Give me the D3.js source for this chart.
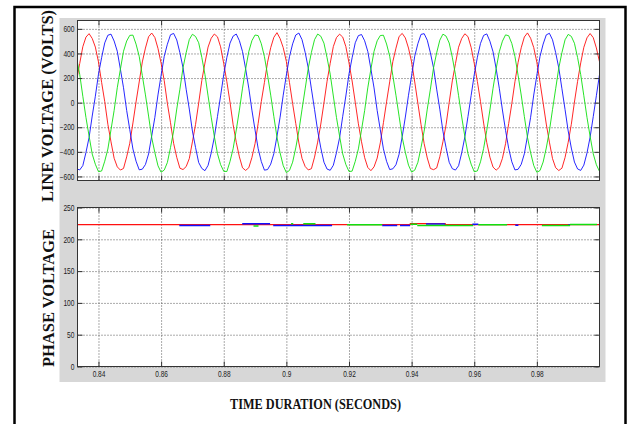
<!DOCTYPE html>
<html>
<head>
<meta charset="utf-8">
<script src="https://cdn.jsdelivr.net/npm/d3@7"></script>
<style>
  html, body { margin: 0; padding: 0; background: #fff; }
  svg { display: block; }
  .tick text {
    font-family: "Liberation Sans Narrow", "Arial Narrow", "Liberation Sans", sans-serif;
    font-size: 8.5px;
    fill: #222;
  }
  .title {
    font-family: "Liberation Serif", "Times New Roman", serif;
    font-weight: bold;
    fill: #111;
  }
</style>
</head>
<body>
<svg id="chart" width="628" height="424"></svg>
<script>
// ---- Line voltages, one sample per millisecond starting at t = 0.833 s ----
const sampleStart = 0.833;
const sampleStep = 0.001;

const lineRed = [
  176,318,455,533,561,522,452,331,165,8,-176,-319,-452,-522,-548,-535,-441,-330,-165,6,
  168,331,444,536,566,530,441,321,178,-6,-163,-331,-445,-533,-544,-520,-455,-319,-177,-4,
  180,322,452,524,558,535,454,318,170,5,-179,-322,-441,-530,-551,-529,-446,-333,-168,9,
  165,329,447,531,569,521,447,335,163,-8,-169,-328,-453,-519,-547,-537,-443,-321,-174,-3,
  174,320,456,529,557,533,456,324,176,3,-172,-318,-447,-527,-553,-522,-451,-327,-163,7,
  169,334,443,538,563,526,444,330,168,-5,-177,-333,-450,-535,-545,-531,-440,-318,-180,2,
  177,317,451,522,560,537,450,319,172,9,-166,-325,-443,-524,-549,-526,-453,-334,-170,-7,
  170,327,446,534,567,524,448,328,166,-2,-174,-321,-455,-529,-552,-533,-446,-323,-176,5,
  173,323,450,527,562,529,445,332
];

const lineBlue = [
  -538,-547,-512,-405,-283,-109,52,231,366,486,548,557,501,418,272,121,-63,-220,-377,-476,
  -546,-541,-503,-417,-271,-120,63,222,377,475,552,563,510,406,284,109,-52,-231,-365,-487,
  -535,-553,-510,-409,-280,-112,55,229,368,484,541,558,504,415,275,118,-61,-223,-374,-479,
  -549,-544,-500,-415,-274,-118,61,224,374,478,550,566,512,409,281,112,-55,-229,-368,-484,
  -540,-550,-509,-407,-285,-111,54,232,365,487,545,554,503,417,273,120,-64,-221,-376,-477,
  -544,-538,-505,-419,-276,-117,60,220,378,480,555,561,508,405,283,110,-53,-232,-366,-485,
  -537,-548,-513,-408,-279,-113,57,227,369,482,547,559,500,414,276,117,-60,-225,-372,-481,
  -547,-542,-502,-416,-272,-119,62,223,376,476,551,564,511,407,282,113,-56,-230,-369,-483,
  -539,-551,-508,-410,-281,-114,56,228
];

const lineGreen = [
  366,231,52,-121,-272,-418,-501,-561,-556,-476,-377,-220,-63,121,272,418,501,547,549,476,
  377,220,63,-109,-284,-406,-513,-566,-548,-487,-365,-231,-52,109,284,406,513,556,538,487,
  368,229,55,-118,-275,-415,-504,-558,-560,-479,-374,-223,-61,118,275,415,504,550,545,479,
  374,224,61,-112,-281,-409,-512,-569,-551,-484,-368,-229,-55,112,281,409,512,558,540,484,
  365,232,54,-120,-273,-417,-503,-560,-557,-477,-376,-221,-64,120,273,417,503,546,548,477,
  378,220,60,-110,-283,-405,-508,-565,-549,-485,-366,-232,-53,110,283,405,508,557,541,485,
  369,227,57,-117,-276,-414,-500,-562,-555,-481,-372,-225,-60,117,276,414,500,551,544,481,
  376,223,62,-113,-282,-407,-511,-567,-552,-483,-369,-230,-56,113,282,407,511,555,539,483,
  367,228,56,-119,-274,-416,-505,-559
];

// ---- Phase voltages: red as steps [time, value]; blue and green as [start, end, value] ----
const phaseRedSteps = [[0.8333, 223.2], [0.9396, 224.6], [0.9507, 223.2], [1.0, 223.2]];
const phaseBlueSegments = [
  [0.8658, 0.8757, 221.6], [0.8859, 0.8948, 224.5], [0.8958, 0.9146, 221.8],
  [0.9306, 0.9354, 221.8], [0.9363, 0.9395, 221.8], [0.9446, 0.9507, 224.1],
  [0.9594, 0.9613, 223.6], [0.9731, 0.9741, 222.0], [0.9900, 0.9906, 222.5]
];
const phaseGreenSegments = [
  [0.8895, 0.8911, 221.0], [0.9015, 0.9022, 224.3], [0.9054, 0.9093, 224.6],
  [0.9194, 0.9306, 222.9], [0.9396, 0.9418, 223.5], [0.9418, 0.9597, 221.6],
  [0.9613, 0.9705, 223.0], [0.9816, 0.9906, 221.8], [0.9906, 0.9992, 223.2]
];

// ---- Axes ----
const timeDomain = [0.8333, 1.0];
const timeTicks = [0.84, 0.86, 0.88, 0.9, 0.92, 0.94, 0.96, 0.98];
const timeTickLabels = ["0.84", "0.86", "0.88", "0.9", "0.92", "0.94", "0.96", "0.98"];
const lineDomain = [-633, 668];
const lineTicks = [-600, -400, -200, 0, 200, 400, 600];
const phaseDomain = [0, 250];
const phaseTicks = [0, 50, 100, 150, 200, 250];

const COLORS = { red: "#ff1010", blue: "#1010ff", green: "#10e010" };

const svg = d3.select("#chart");

// page frame and figure background
svg.append("rect").attr("x", 14.5).attr("y", 7).attr("width", 611).attr("height", 440)
  .attr("fill", "#fff").attr("stroke", "#000").attr("stroke-width", 2.5);
svg.append("rect").attr("x", 59.5).attr("y", 18).attr("width", 546).attr("height", 364)
  .attr("fill", "#d7d7d7");

const left = 77.5, right = 599.5;
const x = d3.scaleLinear().domain(timeDomain).range([left, right]);
const sampleTimes = lineRed.map((_, i) => sampleStart + i * sampleStep);

// narrow, tightly set tick numerals
function condense(sel) {
  sel.selectAll(".tick text").each(function () {
    const s = this.textContent;
    if (!s) return;
    let w = 0;
    for (const ch of s) w += ch === "." ? 1.6 : ch === "-" ? 2.6 : 3.7;
    d3.select(this).attr("textLength", w).attr("lengthAdjust", "spacingAndGlyphs");
  });
}

function panel(id, top, bottom, yScale, yTicks, showTimeLabels) {
  const g = svg.append("g");
  const w = right - left, h = bottom - top;
  g.append("rect").attr("x", left).attr("y", top).attr("width", w).attr("height", h).attr("fill", "#fff");

  // dotted grid
  const gy = g.append("g").attr("transform", `translate(${left},0)`)
    .call(d3.axisLeft(yScale).tickValues(yTicks).tickSize(-w).tickFormat(""));
  const gx = g.append("g").attr("transform", `translate(0,${bottom})`)
    .call(d3.axisBottom(x).tickValues(timeTicks).tickSize(-h).tickFormat(""));
  [gy, gx].forEach(a => {
    a.select(".domain").remove();
    a.selectAll(".tick line").attr("stroke", "#555").attr("stroke-dasharray", "1,2");
  });

  g.append("clipPath").attr("id", id).append("rect")
    .attr("x", left).attr("y", top).attr("width", w).attr("height", h);
  const marks = g.append("g").attr("clip-path", `url(#${id})`);

  // inward ticks on all four sides
  const axL = g.append("g").attr("transform", `translate(${left},0)`)
    .call(d3.axisLeft(yScale).tickValues(yTicks).tickSize(-5).tickPadding(3).tickFormat(d3.format("d")));
  const axR = g.append("g").attr("transform", `translate(${right},0)`)
    .call(d3.axisRight(yScale).tickValues(yTicks).tickSize(-5).tickFormat(""));
  const axT = g.append("g").attr("transform", `translate(0,${top})`)
    .call(d3.axisTop(x).tickValues(timeTicks).tickSize(-5).tickFormat(""));
  const axB = g.append("g").attr("transform", `translate(0,${bottom})`)
    .call(d3.axisBottom(x).tickValues(timeTicks).tickSize(-5).tickPadding(4)
      .tickFormat(showTimeLabels ? (d, i) => timeTickLabels[i] : ""));
  [axL, axR, axT, axB].forEach(a => {
    a.select(".domain").remove();
    a.selectAll(".tick line").attr("stroke", "#333");
    condense(a);
  });

  return { g, marks, top, bottom };
}

// ---- Line voltage panel ----
const yLine = d3.scaleLinear().domain(lineDomain).range([180.5, 20.5]);
const p1 = panel("clipLine", 20.5, 180.5, yLine, lineTicks, false);
const lineGen = d3.line().x((d, i) => x(sampleTimes[i])).y(d => yLine(d));
[[lineRed, COLORS.red], [lineBlue, COLORS.blue], [lineGreen, COLORS.green]].forEach(([data, c]) => {
  p1.marks.append("path").datum(data).attr("d", lineGen)
    .attr("fill", "none").attr("stroke", c).attr("stroke-width", 1).attr("stroke-opacity", 0.9);
});
p1.g.append("rect").attr("x", left).attr("y", 20.5).attr("width", right - left).attr("height", 160)
  .attr("fill", "none").attr("stroke", "#333");

// ---- Phase voltage panel ----
const yPhase = d3.scaleLinear().domain(phaseDomain).range([366.5, 207.5]);
const p2 = panel("clipPhase", 207.5, 366.5, yPhase, phaseTicks, true);
p2.marks.append("path").datum(phaseRedSteps)
  .attr("d", d3.line().curve(d3.curveStepAfter).x(d => x(d[0])).y(d => yPhase(d[1])))
  .attr("fill", "none").attr("stroke", COLORS.red).attr("stroke-width", 1.3);
[[phaseBlueSegments, COLORS.blue], [phaseGreenSegments, COLORS.green]].forEach(([segs, c]) => {
  p2.marks.selectAll(null).data(segs).join("line")
    .attr("x1", d => x(d[0])).attr("x2", d => x(d[1]))
    .attr("y1", d => yPhase(d[2])).attr("y2", d => yPhase(d[2]))
    .attr("stroke", c).attr("stroke-width", 1.5);
});
p2.g.append("rect").attr("x", left).attr("y", 207.5).attr("width", right - left).attr("height", 159)
  .attr("fill", "none").attr("stroke", "#333");

// ---- Titles ----
svg.append("text").attr("class", "title")
  .attr("transform", "translate(52.5,106) rotate(-90)")
  .attr("text-anchor", "middle").attr("font-size", 16)
  .attr("textLength", 192).attr("lengthAdjust", "spacingAndGlyphs")
  .text("LINE VOLTAGE (VOLTS)");
svg.append("text").attr("class", "title")
  .attr("transform", "translate(53.5,298) rotate(-90)")
  .attr("text-anchor", "middle").attr("font-size", 16)
  .attr("textLength", 138).attr("lengthAdjust", "spacingAndGlyphs")
  .text("PHASE VOLTAGE");
svg.append("text").attr("class", "title")
  .attr("x", 315.5).attr("y", 408.5)
  .attr("text-anchor", "middle").attr("font-size", 14)
  .attr("textLength", 171).attr("lengthAdjust", "spacingAndGlyphs")
  .text("TIME DURATION (SECONDS)");
</script>
</body>
</html>
